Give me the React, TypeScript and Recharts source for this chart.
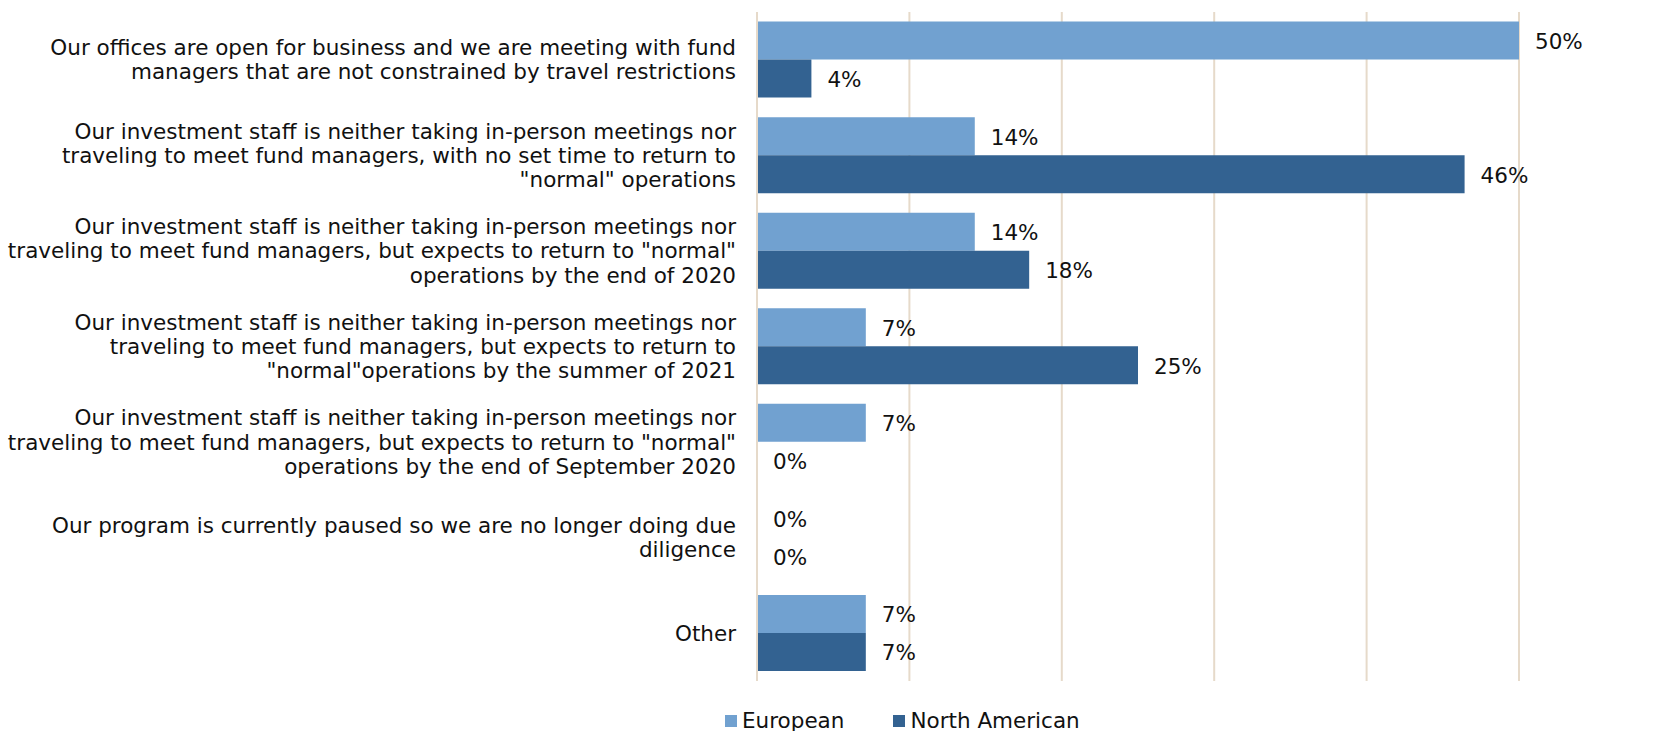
import React from 'react';
import { BarChart, Bar, XAxis, YAxis, CartesianGrid, Legend, LabelList } from 'recharts';

// Survey answers (line breaks match the original wrapping)
const categories = [
  'Our offices are open for business and we are meeting with fund\nmanagers that are not constrained by travel restrictions',
  'Our investment staff is neither taking in-person meetings nor\ntraveling to meet fund managers, with no set time to return to\n"normal" operations',
  'Our investment staff is neither taking in-person meetings nor\ntraveling to meet fund managers, but expects to return to "normal"\noperations by the end of 2020',
  'Our investment staff is neither taking in-person meetings nor\ntraveling to meet fund managers, but expects to return to\n"normal"operations by the summer of 2021',
  'Our investment staff is neither taking in-person meetings nor\ntraveling to meet fund managers, but expects to return to "normal"\noperations by the end of September 2020',
  'Our program is currently paused so we are no longer doing due\ndiligence',
  'Other',
];

// share of respondents, in %
const european = [50, 14.29, 14.29, 7.14, 7.14, 0, 7.14];
const northAmerican = [3.57, 46.43, 17.86, 25, 0, 0, 7.14];

const xTicks = [0, 10, 20, 30, 40, 50];

const EU_COLOR = '#71A1D0';
const NA_COLOR = '#336291';
const GRID_COLOR = '#E6DACA';
const TEXT_COLOR = '#111';
const FONT = '"DejaVu Sans", Verdana, sans-serif';
const FONT_SIZE = 21.5;

const chartData = categories.map((label, i) => ({
  label,
  european: european[i],
  northAmerican: northAmerican[i],
}));

const CategoryTick = (props: any) => {
  const { x, y, payload } = props;
  const lines: string[] = String(payload.value).split('\n');
  const lineHeight = 24.3;
  const startY = y - ((lines.length - 1) * lineHeight) / 2;
  return (
    <text x={x} y={startY} textAnchor="end" fill={TEXT_COLOR} fontSize={FONT_SIZE} fontFamily={FONT}>
      {lines.map((line, i) => (
        <tspan key={i} x={x} y={startY + i * lineHeight} dominantBaseline="central">
          {line}
        </tspan>
      ))}
    </text>
  );
};

// draws the value next to the bar end, also for zero values
const ValueLabel = (props: any) => {
  const { x, y, width, height, value } = props;
  return (
    <text
      x={Number(x) + Number(width || 0) + 16}
      y={Number(y) + Number(height) / 2 + 1}
      dominantBaseline="central"
      fill={TEXT_COLOR}
      fontSize={FONT_SIZE}
      fontFamily={FONT}
    >
      {`${Math.round(Number(value))}%`}
    </text>
  );
};

const LegendContent = () => (
  <div style={{ display: 'flex', alignItems: 'center', fontFamily: FONT, fontSize: FONT_SIZE, color: TEXT_COLOR }}>
    <span style={{ width: 12, height: 12, background: EU_COLOR, display: 'inline-block', marginRight: 5 }} />
    <span style={{ marginRight: 49 }}>European</span>
    <span style={{ width: 12, height: 12, background: NA_COLOR, display: 'inline-block', marginRight: 5 }} />
    <span>North American</span>
  </div>
);

export default function App() {
  return (
    <div style={{ position: 'absolute', left: 0, top: 0, background: '#fff' }}>
      <BarChart
        width={1658}
        height={731}
        data={chartData}
        layout="vertical"
        margin={{ top: 12, right: 139, left: 0, bottom: 25 }}
        barCategoryGap="10%"
        barGap={0}
      >
        <CartesianGrid horizontal={false} vertical stroke={GRID_COLOR} strokeWidth={2} />
        <XAxis type="number" domain={[0, 50]} ticks={xTicks} hide />
        <YAxis
          type="category"
          dataKey="label"
          width={757}
          tickLine={false}
          tickSize={0}
          tickMargin={21}
          axisLine={{ stroke: GRID_COLOR, strokeWidth: 2 }}
          tick={<CategoryTick />}
          interval={0}
        />
        <Legend content={<LegendContent />} wrapperStyle={{ left: 725, top: 708, width: 'auto' }} />
        <Bar dataKey="european" name="European" fill={EU_COLOR} minPointSize={0.01} isAnimationActive={false}>
          <LabelList dataKey="european" content={<ValueLabel />} />
        </Bar>
        <Bar dataKey="northAmerican" name="North American" fill={NA_COLOR} minPointSize={0.01} isAnimationActive={false}>
          <LabelList dataKey="northAmerican" content={<ValueLabel />} />
        </Bar>
      </BarChart>
    </div>
  );
}
